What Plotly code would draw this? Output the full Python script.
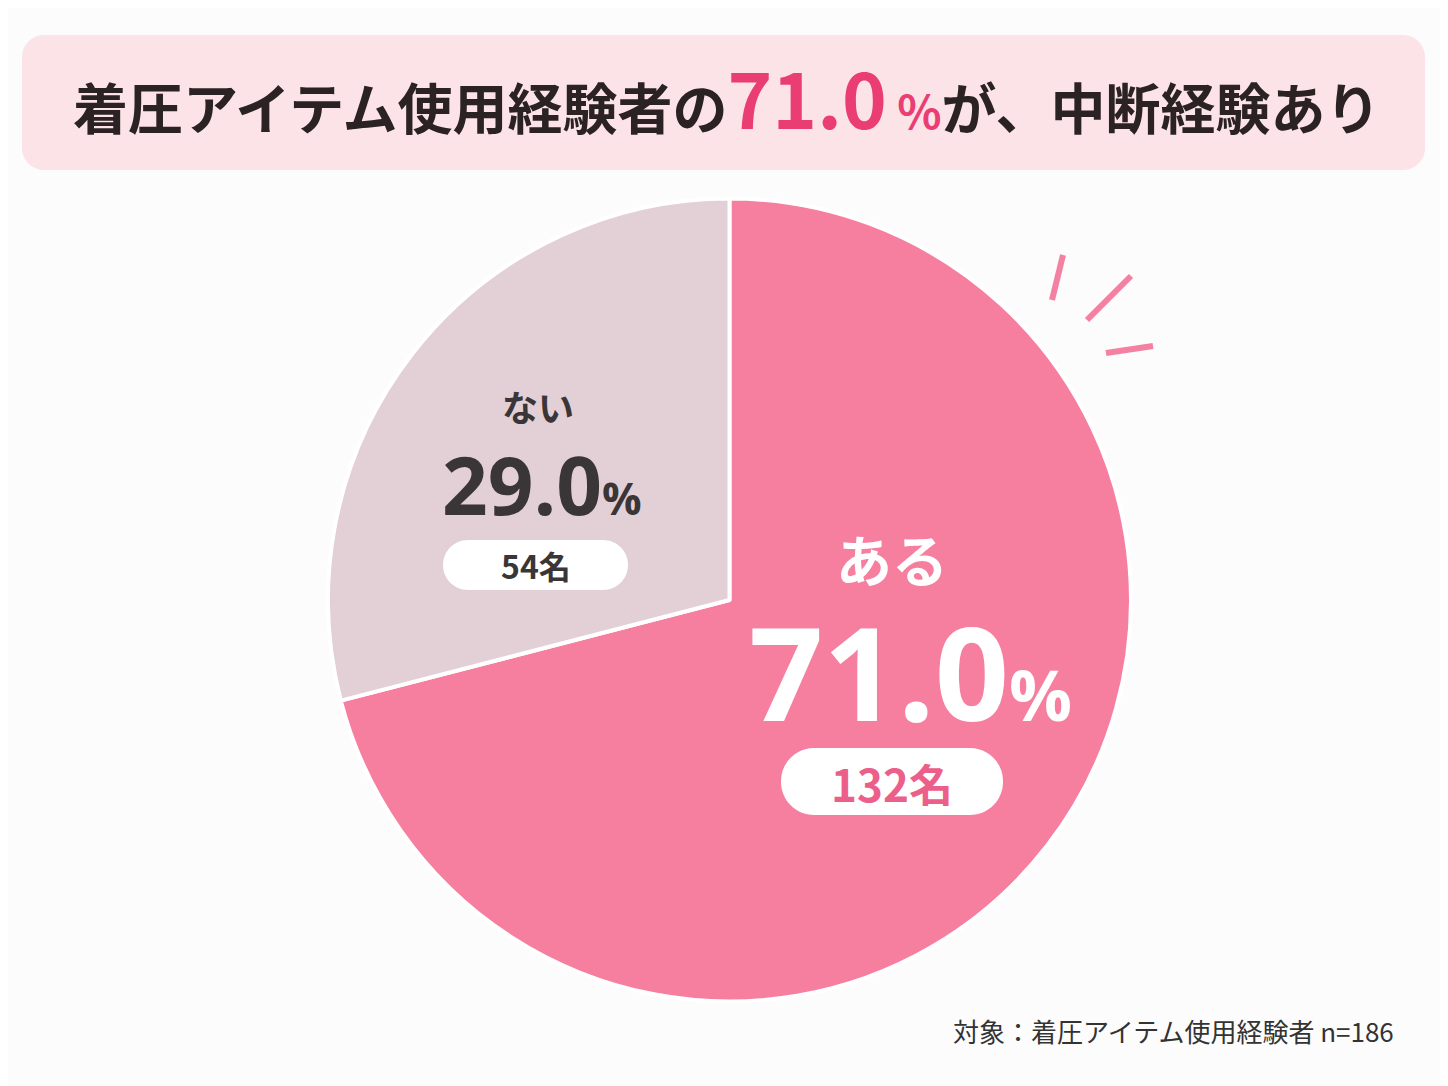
import plotly.graph_objects as go

# Survey result: interruption experience among compression-item users
labels = ["ある", "ない"]
counts = [132, 54]
colors = ["#F67E9F", "#E3CFD6"]
total = sum(counts)
shares = [c / total * 100 for c in counts]

# page puts the plot 8px in from the corner, so work in window pixels and shift
OFF = 8
W, H = 1448 - OFF, 1086 - OFF
JP = "Noto Sans CJK JP"
DARK = "#2B2224"
ACCENT = "#EA3D74"


def px(x):
    return (x - OFF) / W


def py(y):
    return 1 - (y - OFF) / H


def round_rect(x0, y0, x1, y1, r):
    # rounded rectangle as an svg path in paper coords (input in pixels)
    k = 0.5523 * r
    pts = [
        f"M{px(x0 + r)},{py(y0)}",
        f"L{px(x1 - r)},{py(y0)}",
        f"C{px(x1 - r + k)},{py(y0)} {px(x1)},{py(y0 + r - k)} {px(x1)},{py(y0 + r)}",
        f"L{px(x1)},{py(y1 - r)}",
        f"C{px(x1)},{py(y1 - r + k)} {px(x1 - r + k)},{py(y1)} {px(x1 - r)},{py(y1)}",
        f"L{px(x0 + r)},{py(y1)}",
        f"C{px(x0 + r - k)},{py(y1)} {px(x0)},{py(y1 - r + k)} {px(x0)},{py(y1 - r)}",
        f"L{px(x0)},{py(y0 + r)}",
        f"C{px(x0)},{py(y0 + r - k)} {px(x0 + r - k)},{py(y0)} {px(x0 + r)},{py(y0)}",
        "Z",
    ]
    return " ".join(pts)


fig = go.Figure()

fig.add_trace(go.Pie(
    labels=labels,
    values=counts,
    sort=False,
    direction="clockwise",
    rotation=0,
    textinfo="none",
    hoverinfo="none",
    marker=dict(colors=colors, line=dict(color="white", width=4)),
    domain=dict(x=[px(328), px(1131)], y=[py(1002), py(198)]),
    showlegend=False,
))

shapes = [
    # title panel
    dict(type="path", path=round_rect(22, 35, 1425, 170, 22), xref="paper", yref="paper",
         fillcolor="#FCE3E8", line=dict(width=0), layer="below"),
    # count pills
    dict(type="path", path=round_rect(443, 540, 628, 590, 25), xref="paper", yref="paper",
         fillcolor="white", line=dict(width=0)),
    dict(type="path", path=round_rect(781, 748, 1003, 815, 33), xref="paper", yref="paper",
         fillcolor="white", line=dict(width=0)),
]
# little emphasis strokes next to the pie
for (x0, y0, x1, y1) in [(1052, 300, 1063, 255), (1087, 320, 1131, 276), (1106, 353, 1153, 346)]:
    shapes.append(dict(type="line", xref="paper", yref="paper",
                       x0=px(x0), y0=py(y0), x1=px(x1), y1=py(y1),
                       line=dict(color="#F480A2", width=6)))

title_text = (
    f"<b>着圧アイテム使用経験者の</b>"
    f"<span style='color:{ACCENT};font-size:76px'><b>{shares[0]:.1f}</b></span>"
    f"<span style='color:{ACCENT};font-size:46px'><b> %</b></span>"
    f"<b>が、中断経験あり</b>"
)

annotations = [
    dict(text=title_text, x=px(726), y=py(96), font=dict(family=JP, size=55, color=DARK)),
    # ない
    dict(text=f"<b>{labels[1]}</b>", x=px(538), y=py(406), font=dict(family=JP, size=36, color="#3A3536")),
    dict(text=f"<b>{shares[1]:.1f}</b><span style='font-size:44px'><b>%</b></span>",
         x=px(542), y=py(483), font=dict(family="Open Sans", size=80, color="#3A3536")),
    dict(text=f"<b>{counts[1]}名</b>", x=px(536), y=py(565), font=dict(family=JP, size=32, color="#3A3536")),
    # ある
    dict(text=f"<b>{labels[0]}</b>", x=px(892), y=py(557), font=dict(family=JP, size=56, color="white")),
    dict(text=f"<b>{shares[0]:.1f}</b><span style='font-size:70px'><b>%</b></span>",
         x=px(910), y=py(670), font=dict(family="Open Sans", size=130, color="white")),
    dict(text=f"<b>{counts[0]}名</b>", x=px(892), y=py(783), font=dict(family=JP, size=44, color="#EC5F8A")),
    # footnote
    dict(text=f"対象：着圧アイテム使用経験者 n={total}", x=px(1396), y=py(1030), xanchor="right",
         font=dict(family=JP, size=26, color="#333333")),
]
for a in annotations:
    a.setdefault("xanchor", "center")
    a.update(xref="paper", yref="paper", yanchor="middle", showarrow=False)

fig.update_layout(
    width=W, height=H,
    margin=dict(l=0, r=0, t=0, b=0),
    paper_bgcolor="#FCFCFC",
    plot_bgcolor="#FCFCFC",
    shapes=shapes,
    annotations=annotations,
)

fig.write_html("out.html")
